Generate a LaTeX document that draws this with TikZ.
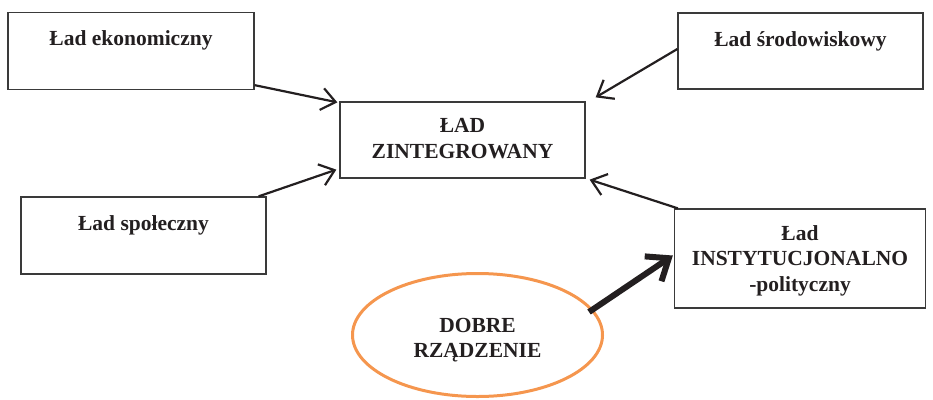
\documentclass[tikz,border=0pt]{standalone}
\usepackage{fontspec}
\setmainfont{Liberation Serif}
\usetikzlibrary{arrows.meta,shapes.geometric,calc}
\definecolor{ink}{HTML}{231F20}
\definecolor{frame}{HTML}{3A3A3A}
\definecolor{ovalorange}{HTML}{F5964E}
\tikzset{
  box/.style={draw=frame, line width=1.3pt, rectangle, inner sep=0pt},
  lbl/.style={text=ink, font=\fontsize{21.5}{25.5}\selectfont\bfseries, align=center, inner sep=0pt},
  thinarrow/.style={draw=ink, line width=2.2pt, -{Straight Barb[length=14pt,width=22pt,line width=2.2pt]}},
  thickarrow/.style={draw=ink, line width=6pt, -{Straight Barb[length=19pt,width=30pt,line width=6pt]}}
}
\begin{document}
\begin{tikzpicture}[x=1pt,y=-1pt]
\useasboundingbox (0,0) rectangle (933,399);
% boxes
\node[box, minimum width=246pt, minimum height=77pt] (eko) at (131,51) {};
\node[box, minimum width=245pt, minimum height=76pt] (env) at (800.5,51) {};
\node[box, minimum width=245pt, minimum height=76pt] (zin) at (462.5,140) {};
\node[box, minimum width=245pt, minimum height=77pt] (spo) at (143.5,235.5) {};
\node[box, minimum width=251pt, minimum height=99pt] (ins) at (800,258.5) {};
\node[draw=ovalorange, line width=3pt, ellipse, minimum width=250pt, minimum height=123pt, inner sep=0pt] (dob) at (477.5,335) {};
% labels
\node[lbl] at ($(eko.north)+(0,28.5)$) {Ład ekonomiczny};
\node[lbl] at ($(env.north)+(0,28.5)$) {Ład środowiskowy};
\node[lbl] at ($(zin.center)+(0,-1.5)$) {ŁAD\\ZINTEGROWANY};
\node[lbl] at ($(spo.north)+(0,29)$) {Ład społeczny};
\node[lbl] at ($(ins.center)+(0,2)$) {Ład\\INSTYTUCJONALNO\\-polityczny};
\node[lbl] at ($(dob.center)+(0,5)$) {DOBRE\\RZĄDZENIE};
% connectors
\draw[thinarrow] ($(eko.south east)+(0,-5)$) -- ($(zin.north west)+(-2,1)$);
\draw[thinarrow] ($(env.west)+(0,-2)$) -- ($(zin.north east)+(10,-4)$);
\draw[thinarrow] ($(spo.north east)+(-8,0)$) -- ($(zin.south west)+(-3,-9)$);
\draw[thinarrow] ($(ins.north west)+(4,0)$) -- ($(zin.south east)+(4,1)$);
\draw[thickarrow] ($(dob.east)+(-15,-23)$) -- ($(ins.west)+(-1,-3)$);
\end{tikzpicture}
\end{document}
